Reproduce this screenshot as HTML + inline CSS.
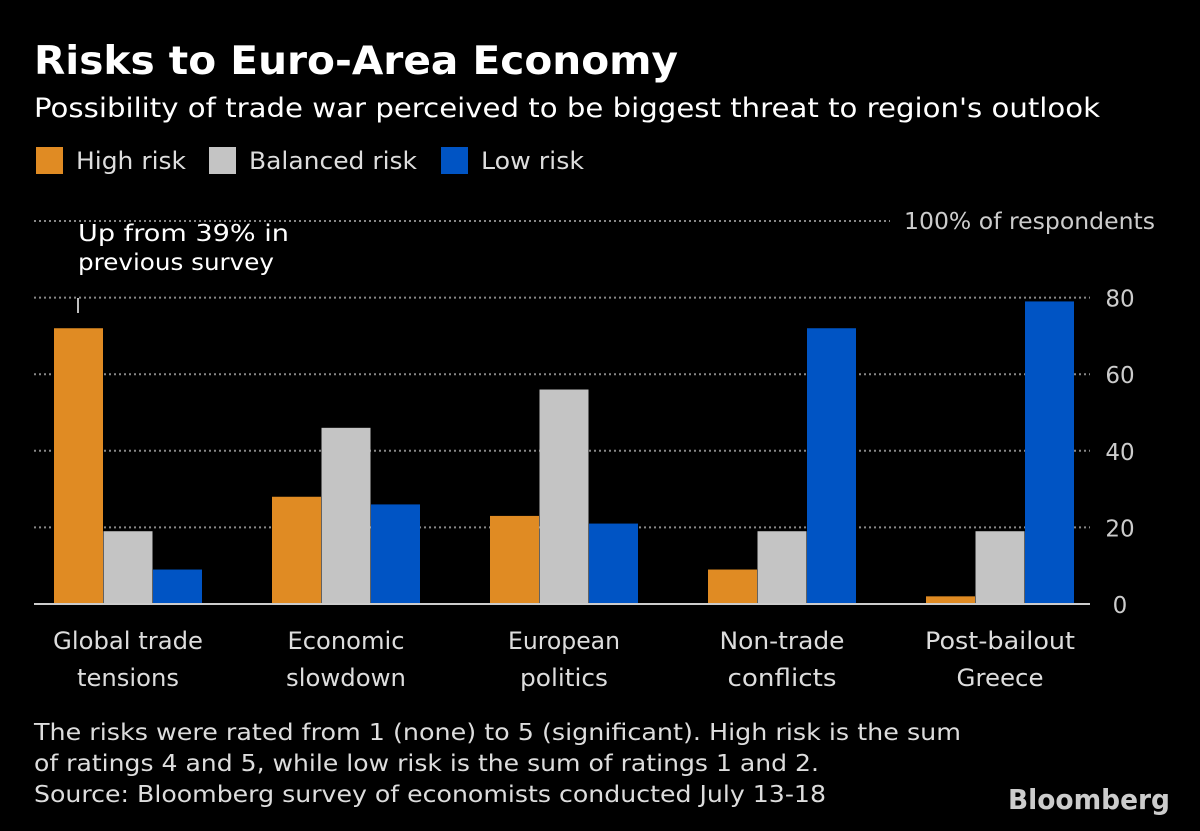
<!DOCTYPE html>
<html><head><meta charset="utf-8"><style>
body{margin:0;background:#000;width:1200px;height:831px;overflow:hidden;font-family:"DejaVu Sans","Liberation Sans",sans-serif;color:#fff}
svg{position:absolute;left:0;top:0;font-family:"DejaVu Sans","Liberation Sans",sans-serif}
</style></head><body>
<svg width="1200" height="831" id="c">
<text x="34" y="74" font-size="39" font-weight="bold" fill="#fff" textLength="644" lengthAdjust="spacingAndGlyphs">Risks to Euro-Area Economy</text>
<text x="34" y="117" font-size="27" fill="#fff" textLength="1066" lengthAdjust="spacingAndGlyphs">Possibility of trade war perceived to be biggest threat to region's outlook</text>
<g>
<rect x="36" y="147" width="27" height="27" fill="#e08b23"/>
<text x="76" y="169" font-size="24" fill="#ddd" textLength="110" lengthAdjust="spacingAndGlyphs">High risk</text>
<rect x="209" y="147" width="27" height="27" fill="#c4c4c4"/>
<text x="249" y="169" font-size="24" fill="#ddd" textLength="168" lengthAdjust="spacingAndGlyphs">Balanced risk</text>
<rect x="441" y="147" width="27" height="27" fill="#0054c4"/>
<text x="481" y="169" font-size="24" fill="#ddd" textLength="103" lengthAdjust="spacingAndGlyphs">Low risk</text>
</g>
<g id="grid"></g><g id="bars"></g>
<text x="78" y="241" font-size="23" fill="#fff" textLength="211" lengthAdjust="spacingAndGlyphs">Up from 39% in</text>
<text x="78" y="270" font-size="23" fill="#fff" textLength="196" lengthAdjust="spacingAndGlyphs">previous survey</text>
<line x1="78" y1="298" x2="78" y2="313" stroke="#fff" stroke-width="1.5"/>
<text x="34" y="740" font-size="23" fill="#ddd" textLength="927" lengthAdjust="spacingAndGlyphs">The risks were rated from 1 (none) to 5 (significant). High risk is the sum</text>
<text x="34" y="771" font-size="23" fill="#ddd" textLength="785" lengthAdjust="spacingAndGlyphs">of ratings 4 and 5, while low risk is the sum of ratings 1 and 2.</text>
<text x="34" y="802" font-size="23" fill="#ddd" textLength="792" lengthAdjust="spacingAndGlyphs">Source: Bloomberg survey of economists conducted July 13-18</text>
<text x="1008" y="809" font-size="28" font-weight="bold" fill="#ccc" textLength="162" lengthAdjust="spacingAndGlyphs">Bloomberg</text>
</svg>
<script>
const categories=[["Global trade","tensions"],["Economic","slowdown"],["European","politics"],["Non-trade","conflicts"],["Post-bailout","Greece"]];
const highRisk=[72,28,23,9,2];
const balancedRisk=[19,46,56,19,19];
const lowRisk=[9,26,21,72,79];
const ticks=[0,20,40,60,80];
const labelWidths=[[150,102],[117,120],[112,88],[125,109],[150,87]];
const NS="http://www.w3.org/2000/svg";
const y=v=>604-v*3.83;
const grid=document.getElementById('grid'),bars=document.getElementById('bars');
function mk(tag,attrs,parent){const e=document.createElementNS(NS,tag);for(const k in attrs)e.setAttribute(k,attrs[k]);parent.appendChild(e);return e;}
ticks.forEach(t=>{
  if(t>0){const l=mk('line',{x1:34,x2:1090,y1:y(t),y2:y(t),stroke:'#888','stroke-width':2,'stroke-dasharray':'2,3'},grid);
  
  }
  const tx=mk('text',{x:1120,y:y(t)+9,'font-size':23,fill:'#ccc','text-anchor':'middle'},grid);tx.textContent=t;
  
  
});
const l100=mk('line',{x1:34,x2:890,y1:y(100),y2:y(100),stroke:'#888','stroke-width':2,'stroke-dasharray':'2,3'},grid);


const t100=mk('text',{x:904,y:y(100)+8,'font-size':23,fill:'#ccc',textLength:251,lengthAdjust:'spacingAndGlyphs'},grid);t100.textContent='100% of respondents';


const series=[[highRisk,'#e08b23','high'],[balancedRisk,'#c4c4c4','balanced'],[lowRisk,'#0054c4','low']];
categories.forEach((c,i)=>{
  const gx=54+i*218;
  series.forEach((s,j)=>{
    const v=s[0][i];
    const r=mk('rect',{x:gx+j*49.5,y:y(v),width:49,height:604-y(v),fill:s[1]},bars);
    
    
  });
  c.forEach((ln,k)=>{const w=labelWidths[i][k];const t=mk('text',{x:gx+74-w/2,y:649+k*37,'font-size':24,fill:'#ddd',textLength:w,lengthAdjust:'spacingAndGlyphs'},bars);t.textContent=ln;
  
  });
});
const base=mk('line',{x1:34,x2:1090,y1:604,y2:604,stroke:'#ccc','stroke-width':2},bars);


</script>
</body></html>
